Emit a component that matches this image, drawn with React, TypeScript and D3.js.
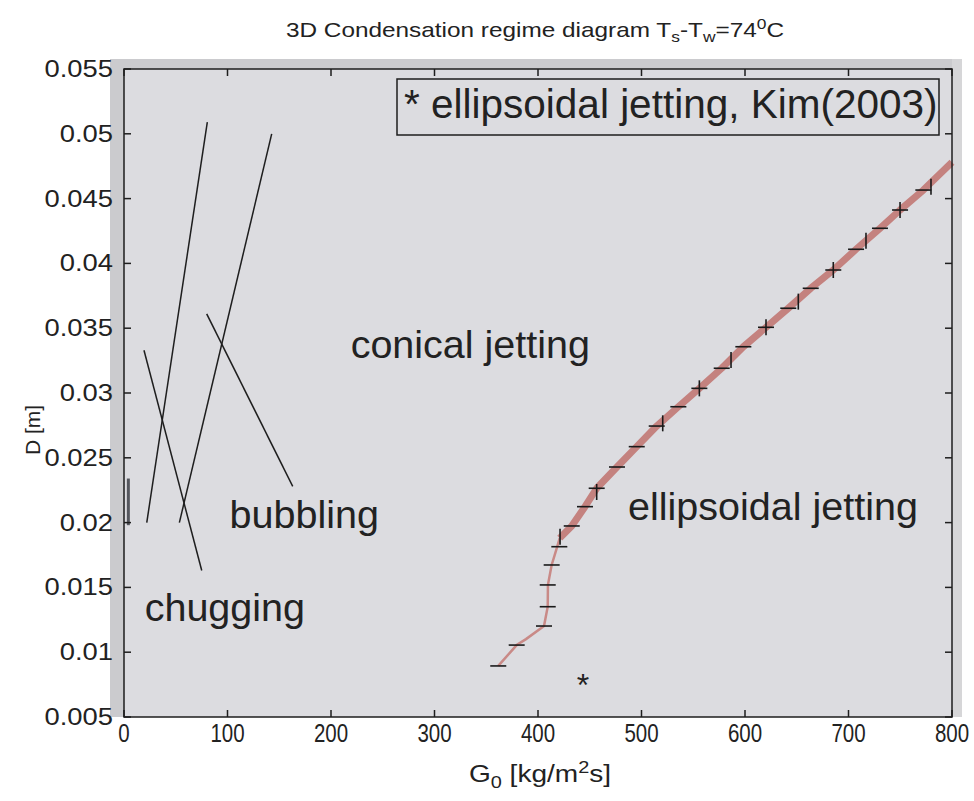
import React from "react";
import * as d3 from "d3";

const W = 974;
const H = 801;

// axis domains and ticks
const xDomain = [0, 800];
const yDomain = [0.005, 0.055];
const xTicks = [0, 100, 200, 300, 400, 500, 600, 700, 800];
const yTicks = [0.005, 0.01, 0.015, 0.02, 0.025, 0.03, 0.035, 0.04, 0.045, 0.05, 0.055];
const yTickLabels = ["0.005", "0.01", "0.015", "0.02", "0.025", "0.03", "0.035", "0.04", "0.045", "0.05", "0.055"];

// regime boundary lines [G0, D]
const chugBubA = [[22, 0.02], [80.5, 0.0509]];
const chugBubB = [[53.5, 0.02], [142.7, 0.05]];
const chugDesc = [[19.3, 0.0333], [75.1, 0.0163]];
const bubConDesc = [[79.9, 0.0361], [163, 0.0228]];
const shortSeg = [[4.2, 0.0234], [4.2, 0.0198]];

// conical / ellipsoidal boundary
const boundaryThin = [
  [361.6, 0.00894], [379.4, 0.01055], [388.4, 0.01101], [405.8, 0.01202],
  [409.4, 0.01351], [409.6, 0.0152], [413.2, 0.01673], [418, 0.018], [421, 0.0188],
];
const boundaryThick = [
  [421, 0.0188], [432.6, 0.01974], [445.4, 0.02123], [456.7, 0.02265], [476.3, 0.02429],
  [495.4, 0.02586], [514.7, 0.02745], [535.6, 0.02894], [555.9, 0.03036], [577.5, 0.03191],
  [598.4, 0.03357], [620.3, 0.03507], [641.8, 0.03654], [663.5, 0.03808], [685.3, 0.03949],
  [707.3, 0.04109], [730.4, 0.04271], [749.8, 0.04412], [772.3, 0.04566], [800, 0.0478],
];
// marker dashes on the boundary
const hMarks = [
  [361.6, 0.00894], [379.4, 0.01055], [405.8, 0.01202], [409.4, 0.01351], [409.4, 0.01519],
  [413.2, 0.01673], [420.6, 0.01814], [432.6, 0.01974], [445.4, 0.02123], [456.7, 0.02265],
  [476.3, 0.02429], [495.4, 0.02586], [514.7, 0.02745], [535.6, 0.02894], [555.9, 0.03036],
  [577.5, 0.03191], [598.4, 0.03357], [620.3, 0.03507], [641.8, 0.03654], [663.5, 0.03808],
  [685.3, 0.03949], [707.3, 0.04109], [730.4, 0.04271], [749.8, 0.04412], [772.3, 0.04566],
];
const vMarks = [
  [421.3, 0.01891], [456.7, 0.02236], [520.5, 0.02766], [555.9, 0.03036], [586.5, 0.03255],
  [620.3, 0.03507], [651.5, 0.03705], [685.3, 0.03949], [716.9, 0.04175], [749.8, 0.04412],
  [779.7, 0.04592],
];
// Kim (2003) point
const kimPoint = [[443.5, 0.0077]];

// region labels
const regionLabels = [
  { text: "conical jetting", g: 219, d: 0.0327 },
  { text: "ellipsoidal jetting", g: 487, d: 0.0202 },
  { text: "bubbling", g: 102, d: 0.0196 },
  { text: "chugging", g: 20, d: 0.0124 },
];

const legendText = "* ellipsoidal jetting, Kim(2003)";

export default function App() {
  const x = d3.scaleLinear().domain(xDomain).range([124, 952]);
  const y = d3.scaleLinear().domain(yDomain).range([717, 69]);
  const line = d3.line<number[]>().x((d) => x(d[0])).y((d) => y(d[1]));

  const left = x(xDomain[0]);
  const right = x(xDomain[1]);
  const top = y(yDomain[1]);
  const bottom = y(yDomain[0]);
  const font = "'Liberation Sans', Arial, sans-serif";

  return (
    <svg
      width={W}
      height={H}
      style={{ position: "absolute", left: 0, top: 0, background: "#fff" }}
    >
      {/* figure band */}
      <rect x={110} y={59} width={852} height={bottom - 59} fill="#cbcbce" />
      <rect x={right} y={59} width={10} height={bottom - 59} fill="#d6d6d8" />
      {/* axes background */}
      <rect x={left} y={top} width={right - left} height={bottom - top} fill="#dcdce0" />

      {/* title */}
      <g transform={`translate(535,37) scale(1.16,1)`}>
        <text textAnchor="middle" fontFamily={font} fontSize={21} fill="#222">
          3D Condensation regime diagram T
          <tspan fontSize={15} dy={5}>s</tspan>
          <tspan dy={-5}>-T</tspan>
          <tspan fontSize={15} dy={5}>w</tspan>
          <tspan dy={-5}>=74</tspan>
          <tspan fontSize={15} dy={-8}>0</tspan>
          <tspan dy={8}>C</tspan>
        </text>
      </g>

      {/* boundary lines */}
      {[chugBubA, chugBubB, chugDesc, bubConDesc].map((d, i) => (
        <path key={i} d={line(d) || ""} fill="none" stroke="#1e1e1e" strokeWidth={1.5} />
      ))}
      <path d={line(shortSeg) || ""} fill="none" stroke="#55575e" strokeWidth={3} />

      {/* conical/ellipsoidal boundary */}
      <path d={line(boundaryThin) || ""} fill="none" stroke="#c98a87" strokeWidth={2.5} />
      <path d={line(boundaryThick) || ""} fill="none" stroke="#c4827f" strokeWidth={7} strokeLinejoin="round" />
      {hMarks.map((d, i) => (
        <line key={"h" + i} x1={x(d[0]) - 8} x2={x(d[0]) + 8} y1={y(d[1])} y2={y(d[1])} stroke="#1a1a1a" strokeWidth={1.6} />
      ))}
      {vMarks.map((d, i) => (
        <line key={"v" + i} x1={x(d[0])} x2={x(d[0])} y1={y(d[1]) - 8} y2={y(d[1]) + 8} stroke="#1a1a1a" strokeWidth={1.6} />
      ))}

      {/* Kim point */}
      {kimPoint.map((d, i) => (
        <text key={"k" + i} x={x(d[0])} y={y(d[1]) + 14} textAnchor="middle" fontFamily={font} fontSize={32} fill="#222">*</text>
      ))}

      {/* region labels */}
      {regionLabels.map((r, i) => (
        <text key={"r" + i} x={x(r.g)} y={y(r.d)} fontFamily={font} fontSize={39.5} fill="#222">
          {r.text}
        </text>
      ))}

      {/* legend */}
      <rect x={397} y={79} width={542} height={56} fill="#dcdce0" stroke="#1e1e1e" strokeWidth={1.5} />
      <text x={404} y={118} fontFamily={font} fontSize={40.5} fill="#222">{legendText}</text>

      {/* axes box */}
      <rect x={left} y={top} width={right - left} height={bottom - top} fill="none" stroke="#1e1e1e" strokeWidth={1.5} />
      {xTicks.map((t, i) => (
        <g key={"xt" + i}>
          <line x1={x(t)} x2={x(t)} y1={bottom} y2={bottom - 7} stroke="#1e1e1e" strokeWidth={1.5} />
          <line x1={x(t)} x2={x(t)} y1={top} y2={top + 7} stroke="#1e1e1e" strokeWidth={1.5} />
          <g transform={`translate(${x(t)},742) scale(0.82,1)`}>
            <text textAnchor="middle" fontFamily={font} fontSize={25} fill="#222">{t}</text>
          </g>
        </g>
      ))}
      {yTicks.map((t, i) => (
        <g key={"yt" + i}>
          <line x1={left} x2={left + 7} y1={y(t)} y2={y(t)} stroke="#1e1e1e" strokeWidth={1.5} />
          <line x1={right} x2={right - 7} y1={y(t)} y2={y(t)} stroke="#1e1e1e" strokeWidth={1.5} />
          <g transform={`translate(113,${y(t) + 8}) scale(1.19,1)`}>
            <text textAnchor="end" fontFamily={font} fontSize={23} fill="#222">{yTickLabels[i]}</text>
          </g>
        </g>
      ))}

      {/* axis labels */}
      <g transform="translate(540,782) scale(1.17,1)">
        <text textAnchor="middle" fontFamily={font} fontSize={24} fill="#222">
          G<tspan fontSize={17} dy={6}>0</tspan>
          <tspan dy={-6}> [kg/m</tspan>
          <tspan fontSize={17} dy={-9}>2</tspan>
          <tspan dy={9}>s]</tspan>
        </text>
      </g>
      <text transform="translate(40,430) rotate(-90)" textAnchor="middle" fontFamily={font} fontSize={21} fill="#222">
        D [m]
      </text>
    </svg>
  );
}
